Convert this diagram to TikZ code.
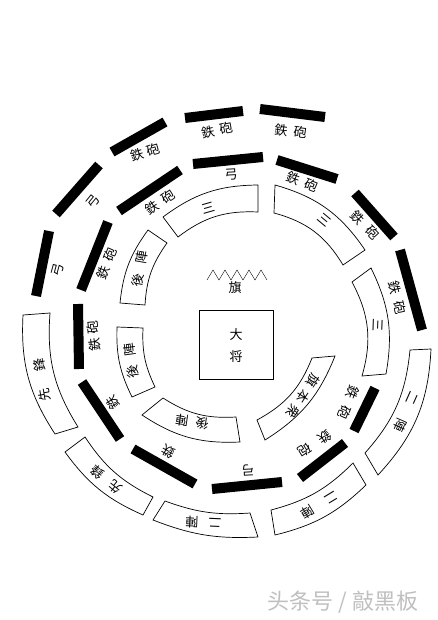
\documentclass[tikz,border=0pt]{standalone}
\usepackage{fontspec}
\newfontfamily\jpfont{Noto Sans CJK JP}
\newfontfamily\wmfont{Noto Sans CJK SC}
\begin{document}
\begin{tikzpicture}[x=1pt,y=-1pt,
		bar/.style={line width=10pt},
		box/.style={line width=0.7pt},
		lbl/.style={sloped,allow upside down,inner sep=0pt},
		every node/.style={font=\jpfont\fontsize{13}{13}\selectfont}]
	\useasboundingbox (0,0) rectangle (437,620);
	% outer ring
	\draw[bar] (112,152) -- (165,122);
	\draw[bar] (185,118) -- (243,111);
	\draw[bar] (260,109) -- (325,117);
	\draw[bar] (56,214) -- (99,165);
	\draw[bar] (49,231) -- (36,296);
	\draw[bar] (355,193) -- (394,237);
	\draw[bar] (400,250) -- (422,330);
	\path (137,155) -- (153,150) node[lbl,pos=0] {鉄} node[lbl,pos=1] {砲};
	\path (208,132) -- (226,128) node[lbl,pos=0] {鉄} node[lbl,pos=1] {砲};
	\path (281,130) -- (300,132) node[lbl,pos=0] {鉄} node[lbl,pos=1] {砲};
	\path (358,218) -- (373,233) node[lbl,pos=0] {鉄} node[lbl,pos=1] {砲};
	\path (395,288) -- (400,308) node[lbl,pos=0] {鉄} node[lbl,pos=1] {砲};
	\node[rotate=51] (bow1) at (93,202) {弓};
	\node[rotate=75] (bow2) at (58,270) {弓};
	\draw[box] (55,434) to[bend left=18] (23,315) -- (50,313) to[bend right=18] (78,427) -- cycle;
	\draw[box] (143,515) to[bend left=15] (65,452) -- (85,437) to[bend right=15] (153,497) -- cycle;
	\draw[box] (258,537) to[bend left=12] (153,520) -- (165,501) to[bend right=12] (250,513) -- cycle;
	\draw[box] (366,485) to[bend left=15] (275,535) -- (271,510) to[bend right=15] (353,463) -- cycle;
	\draw[box] (431,349) to[bend left=20] (378,475) -- (365,453) to[bend right=18] (410,350) -- cycle;
	\path (45,395) -- (40,365) node[lbl,pos=0] {先} node[lbl,pos=1] {鋒};
	\path (115,487) -- (97,472) node[lbl,pos=0] {先} node[lbl,pos=1] {鋒};
	\path (215,523) -- (192,522) node[lbl,pos=0] {二} node[lbl,pos=1] {陣};
	\path (331,498) -- (308,512) node[lbl,pos=0] {二} node[lbl,pos=1] {陣};
	\path (412,398) -- (400,425) node[lbl,pos=0] {二} node[lbl,pos=1] {陣};
	% middle ring
	\draw[bar] (193,164) -- (263,157);
	\draw[bar] (277,160) -- (337,179);
	\draw[bar] (119,211) -- (180,170);
	\draw[bar] (108,222) -- (81,290);
	\draw[bar] (78,304) -- (79,369);
	\draw[bar] (82,382) -- (120,439);
	\draw[bar] (133,449) -- (195,484);
	\draw[bar] (212,489) -- (282,482);
	\draw[bar] (300,478) -- (345,443);
	\draw[bar] (354,431) -- (375,388);
	\node[rotate=3] (bow3) at (231,175) {弓};
	\node[rotate=183] (bow4) at (248,470) {弓};
	\path (293,178) -- (311,185) node[lbl,pos=0] {鉄} node[lbl,pos=1] {砲};
	\path (152,208) -- (168,197) node[lbl,pos=0] {鉄} node[lbl,pos=1] {砲};
	\path (103,273) -- (110,255) node[lbl,pos=0] {鉄} node[lbl,pos=1] {砲};
	\path (95,345) -- (93,328) node[lbl,pos=0] {鉄} node[lbl,pos=1] {砲};
	\path (325,437) -- (305,450) node[lbl,pos=0] {鉄} node[lbl,pos=1] {砲};
	\path (353,392) -- (345,412) node[lbl,pos=0] {鉄} node[lbl,pos=1] {砲};
	\node[rotate=123] (gun1) at (113,403) {鉄};
	\node[rotate=151] (gun2) at (168,452) {鉄};
	% inner ring
	\draw[box] (163,217) to[bend left=18] (258,185) -- (258,212) to[bend right=20] (178,237) -- cycle;
	\draw[box] (275,185) to[bend left=20] (365,250) -- (343,265) to[bend right=22] (274,213) -- cycle;
	\draw[box] (371,268) to[bend left=18] (386,374) -- (362,376) to[bend right=22] (352,282) -- cycle;
	\draw[box] (335,356) to[bend left=18] (265,440) -- (257,420) to[bend right=20] (312,358) -- cycle;
	\draw[box] (240,442) to[bend left=18] (142,415) -- (163,398) to[bend right=18] (236,417) -- cycle;
	\draw[box] (132,397) to[bend left=14] (117,327) -- (143,328) to[bend right=14] (155,387) -- cycle;
	\draw[box] (120,303) to[bend left=15] (148,230) -- (167,243) to[bend right=16] (145,305) -- cycle;
	\node[rotate=16] (three1) at (208,208) {三};
	\node[rotate=-40] (three2) at (325,220) {三};
	\node[rotate=-92] (three3) at (378,325) {三};
	\path (313,381) -- (293,412) node[lbl,pos=0] {旗} node[lbl,pos=0.5] {本} node[lbl,pos=1] {衆};
	\path (202,423) -- (182,420) node[lbl,pos=0] {後} node[lbl,pos=1] {陣};
	\path (133,372) -- (130,350) node[lbl,pos=0] {後} node[lbl,pos=1] {陣};
	\path (138,280) -- (142,257) node[lbl,pos=0] {後} node[lbl,pos=1] {陣};
	% centre
	\draw (207,280) \foreach \i in {1,...,5} { -- ++(6,-10) -- ++(6,10) };
	\node (flag) at (235,288) {旗};
	\draw (199,310) rectangle (273,379);
	\node (da) at (236,335) {大};
	\node (jiang) at (236,357) {将};
	\node[font=\wmfont\fontsize{22}{22}\selectfont,text=gray!50] (mark) at (343,602) {头条号 / 敲黑板};
\end{tikzpicture}
\end{document}
